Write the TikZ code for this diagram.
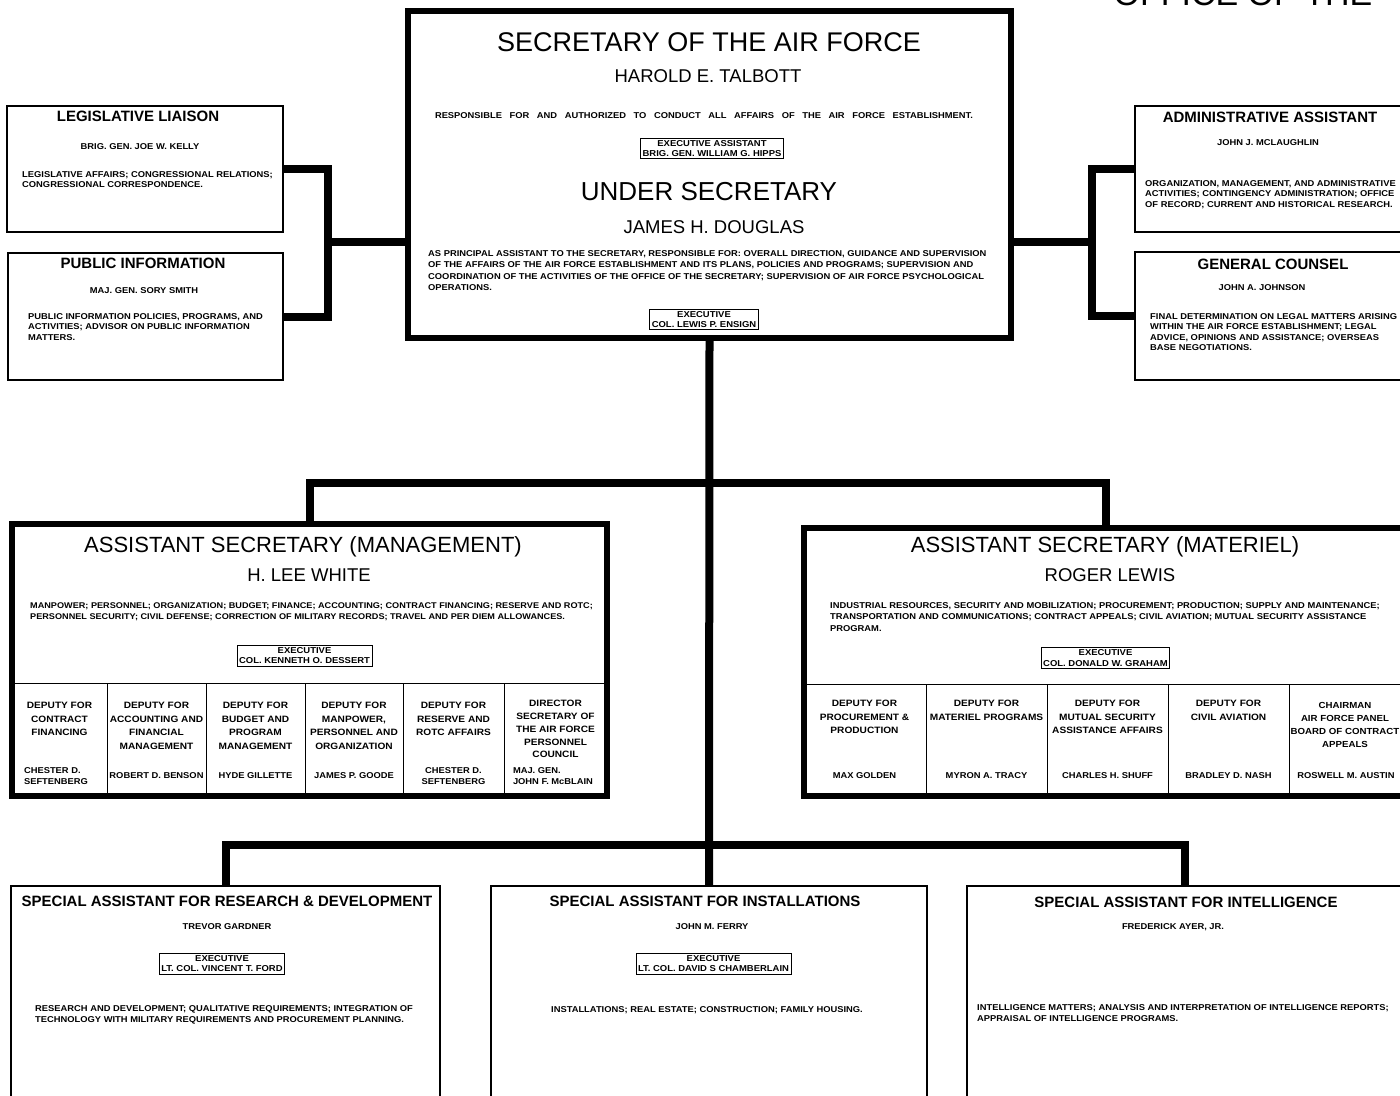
\documentclass[tikz,border=0pt]{standalone}
\usepackage{fontspec}
\setmainfont{Liberation Sans}
\newfontfamily\lettering{Liberation Sans}[FakeStretch=1.1]
\tikzset{
  unit/.style={draw, inner sep=0pt, line width=1.5pt},
  major/.style={unit, line width=5.5pt},
  special/.style={unit, line width=2.5pt},
  subline/.style={line width=1pt},
  conn/.style={line width=8pt},
  chief/.style={inner sep=0pt, font=\fontsize{27}{30}\selectfont},
  asst/.style={inner sep=0pt, font=\fontsize{22}{24}\selectfont},
  holder/.style={inner sep=0pt, font=\fontsize{18.5}{20}\selectfont},
  office/.style={inner sep=0pt, font=\fontsize{15}{17}\selectfont\bfseries},
  person/.style={inner sep=0pt, font=\lettering\fontsize{8.5}{10}\selectfont\bfseries},
  duties/.style={inner sep=0pt, align=left, anchor=north west, font=\lettering\fontsize{8.5}{11.5}\selectfont\bfseries},
  sideduties/.style={duties, font=\lettering\fontsize{8.5}{10.5}\selectfont\bfseries},
  execbox/.style={draw, line width=0.8pt, inner xsep=2pt, inner ysep=2.2pt, align=center, font=\lettering\fontsize{8.6}{10.3}\selectfont\bfseries},
  deputy/.style={inner sep=0pt, align=center, anchor=north, font=\lettering\fontsize{9.2}{13.5}\selectfont\bfseries},
  deputyname/.style={inner sep=0pt, align=center, font=\lettering\fontsize{8.5}{11}\selectfont\bfseries},
}
\begin{document}
\begin{tikzpicture}[x=1pt,y=-1pt]
\useasboundingbox (0,0) rectangle (1400,1095);
\clip (0,0) rectangle (1400,1095);

\node[inner sep=0pt, anchor=base, font=\fontsize{34}{36}\selectfont] (heading) at (1243,5) {OFFICE OF THE};

% secretary and under secretary
\node[major, line width=6pt, minimum width=603pt, minimum height=327pt] (sec) at (709.5,174.5) {};
\node[chief] (sectitle) at (709,42) {SECRETARY OF THE AIR FORCE};
\node[holder] (secname) at (708,76) {HAROLD E. TALBOTT};
\node[person] (secduty) at (704,116) {\makebox[538pt][s]{RESPONSIBLE FOR AND AUTHORIZED TO CONDUCT ALL AFFAIRS OF THE AIR FORCE ESTABLISHMENT.}};
\node[execbox] (secexec) at (712,148.5) {EXECUTIVE ASSISTANT\\BRIG. GEN. WILLIAM G. HIPPS};
\node[chief, font=\fontsize{26}{28}\selectfont] (undertitle) at (709,192) {UNDER SECRETARY};
\node[holder] (undername) at (714,227) {JAMES H. DOUGLAS};
\node[duties] (underduty) at (428,250) {AS PRINCIPAL ASSISTANT TO THE SECRETARY, RESPONSIBLE FOR: OVERALL DIRECTION, GUIDANCE AND SUPERVISION\\OF THE AFFAIRS OF THE AIR FORCE ESTABLISHMENT AND ITS PLANS, POLICIES AND PROGRAMS; SUPERVISION AND\\COORDINATION OF THE ACTIVITIES OF THE OFFICE OF THE SECRETARY; SUPERVISION OF AIR FORCE PSYCHOLOGICAL\\OPERATIONS.};
\node[execbox] (underexec) at (704,319.5) {EXECUTIVE\\COL. LEWIS P. ENSIGN};

% staff offices
\node[unit, minimum width=276pt, minimum height=126pt] (leg) at (145,169) {};
\node[office] at (138,116) {LEGISLATIVE LIAISON};
\node[person] at (140,147) {BRIG. GEN. JOE W. KELLY};
\node[sideduties] at (22,171) {LEGISLATIVE AFFAIRS; CONGRESSIONAL RELATIONS;\\CONGRESSIONAL CORRESPONDENCE.};

\node[unit, minimum width=275pt, minimum height=127pt] (pub) at (145.5,316.5) {};
\node[office] at (143,263) {PUBLIC INFORMATION};
\node[person] at (144,291) {MAJ. GEN. SORY SMITH};
\node[sideduties] at (28,313) {PUBLIC INFORMATION POLICIES, PROGRAMS, AND\\ACTIVITIES; ADVISOR ON PUBLIC INFORMATION\\MATTERS.};

\node[unit, minimum width=270pt, minimum height=126pt] (adm) at (1270,169) {};
\node[office] at (1270,117) {ADMINISTRATIVE ASSISTANT};
\node[person] at (1268,143) {JOHN J. MCLAUGHLIN};
\node[sideduties] at (1145,180) {ORGANIZATION, MANAGEMENT, AND ADMINISTRATIVE\\ACTIVITIES; CONTINGENCY ADMINISTRATION; OFFICE\\OF RECORD; CURRENT AND HISTORICAL RESEARCH.};

\node[unit, minimum width=270pt, minimum height=128pt] (gc) at (1270,316) {};
\node[office] at (1273,264) {GENERAL COUNSEL};
\node[person] at (1262,288) {JOHN A. JOHNSON};
\node[sideduties] at (1150,313) {FINAL DETERMINATION ON LEGAL MATTERS ARISING\\WITHIN THE AIR FORCE ESTABLISHMENT; LEGAL\\ADVICE, OPINIONS AND ASSISTANCE; OVERSEAS\\BASE NEGOTIATIONS.};

% assistant secretary (management)
\node[major, minimum width=595pt, minimum height=272pt] (mgmt) at (309.5,660) {};
\node[asst] at (303,547) {ASSISTANT SECRETARY (MANAGEMENT)};
\node[holder] at (309,575) {H. LEE WHITE};
\node[duties, font=\lettering\fontsize{8.3}{11}\selectfont\bfseries] at (30,602) {MANPOWER; PERSONNEL; ORGANIZATION; BUDGET; FINANCE; ACCOUNTING; CONTRACT FINANCING; RESERVE AND ROTC;\\PERSONNEL SECURITY; CIVIL DEFENSE; CORRECTION OF MILITARY RECORDS; TRAVEL AND PER DIEM ALLOWANCES.};
\node[execbox] (mgmtexec) at (304.5,655.5) {EXECUTIVE\\COL. KENNETH O. DESSERT};
\draw[subline] (12,683) -- (607,683);
\foreach \x in {107,206,305,403,504}
  \draw[subline] (\x,683) -- (\x,796);
\node[deputy] at (59.5,702) {DEPUTY FOR\\CONTRACT\\FINANCING};
\node[deputy] at (156.5,702) {DEPUTY FOR\\ACCOUNTING AND\\FINANCIAL\\MANAGEMENT};
\node[deputy] at (255.5,702) {DEPUTY FOR\\BUDGET AND\\PROGRAM\\MANAGEMENT};
\node[deputy] at (354,702) {DEPUTY FOR\\MANPOWER,\\PERSONNEL AND\\ORGANIZATION};
\node[deputy] at (453.5,702) {DEPUTY FOR\\RESERVE AND\\ROTC AFFAIRS};
\node[deputy, font=\lettering\fontsize{9.2}{12.8}\selectfont\bfseries] at (555.5,700) {DIRECTOR\\SECRETARY OF\\THE AIR FORCE\\PERSONNEL\\COUNCIL};
\node[deputyname, align=left] at (56,776) {CHESTER D.\\SEFTENBERG};
\node[deputyname] at (156.5,776) {ROBERT D. BENSON};
\node[deputyname] at (255.5,776) {HYDE GILLETTE};
\node[deputyname] at (354,776) {JAMES P. GOODE};
\node[deputyname] at (453.5,776) {CHESTER D.\\SEFTENBERG};
\node[deputyname, align=left] at (553,776) {MAJ. GEN.\\JOHN F. McBLAIN};

% assistant secretary (materiel)
\node[major, minimum width=603pt, minimum height=268pt] (mat) at (1105.5,662) {};
\node[asst] at (1105,547) {ASSISTANT SECRETARY (MATERIEL)};
\node[holder] at (1110,575) {ROGER LEWIS};
\node[duties] at (830,602) {INDUSTRIAL RESOURCES, SECURITY AND MOBILIZATION; PROCUREMENT; PRODUCTION; SUPPLY AND MAINTENANCE;\\TRANSPORTATION AND COMMUNICATIONS; CONTRACT APPEALS; CIVIL AVIATION; MUTUAL SECURITY ASSISTANCE\\PROGRAM.};
\node[execbox] (matexec) at (1105.5,658) {EXECUTIVE\\COL. DONALD W. GRAHAM};
\draw[subline] (804,684) -- (1407,684);
\foreach \x in {926,1047,1168,1289}
  \draw[subline] (\x,684) -- (\x,796);
\node[deputy] at (864.5,700) {DEPUTY FOR\\PROCUREMENT \&\\PRODUCTION};
\node[deputy] at (986.5,700) {DEPUTY FOR\\MATERIEL PROGRAMS};
\node[deputy] at (1107.5,700) {DEPUTY FOR\\MUTUAL SECURITY\\ASSISTANCE AFFAIRS};
\node[deputy] at (1228.5,700) {DEPUTY FOR\\CIVIL AVIATION};
\node[deputy, font=\lettering\fontsize{8.8}{13}\selectfont\bfseries] at (1345,702) {CHAIRMAN\\AIR FORCE PANEL\\BOARD OF CONTRACT\\APPEALS};
\node[deputyname] at (864.5,776) {MAX GOLDEN};
\node[deputyname] at (986.5,776) {MYRON A. TRACY};
\node[deputyname] at (1107.5,776) {CHARLES H. SHUFF};
\node[deputyname] at (1228.5,776) {BRADLEY D. NASH};
\node[deputyname] at (1346,776) {ROSWELL M. AUSTIN};

% special assistants
\node[special, minimum width=429pt, minimum height=229pt] (rd) at (225.5,1000.5) {};
\node[office] at (227,901) {SPECIAL ASSISTANT FOR RESEARCH \& DEVELOPMENT};
\node[person] at (227,927) {TREVOR GARDNER};
\node[execbox] (rdexec) at (222,963.5) {EXECUTIVE\\LT. COL. VINCENT T. FORD};
\node[duties] at (35,1005) {RESEARCH AND DEVELOPMENT; QUALITATIVE REQUIREMENTS; INTEGRATION OF\\TECHNOLOGY WITH MILITARY REQUIREMENTS AND PROCUREMENT PLANNING.};

\node[special, minimum width=436pt, minimum height=229pt] (inst) at (709,1000.5) {};
\node[office] at (705,901) {SPECIAL ASSISTANT FOR INSTALLATIONS};
\node[person] at (712,927) {JOHN M. FERRY};
\node[execbox] (instexec) at (713.5,963.5) {EXECUTIVE\\LT. COL. DAVID S CHAMBERLAIN};
\node[person] at (707,1010) {INSTALLATIONS; REAL ESTATE; CONSTRUCTION; FAMILY HOUSING.};

\node[special, minimum width=436pt, minimum height=229pt] (intel) at (1185,1000.5) {};
\node[office] at (1186,902) {SPECIAL ASSISTANT FOR INTELLIGENCE};
\node[person] at (1173,927) {FREDERICK AYER, JR.};
\node[duties] at (977,1004) {INTELLIGENCE MATTERS; ANALYSIS AND INTERPRETATION OF INTELLIGENCE REPORTS;\\APPRAISAL OF INTELLIGENCE PROGRAMS.};

% connectors
\coordinate (jl) at (328,242);
\coordinate (jr) at (1092,242);
\coordinate (jm) at (709,483);
\coordinate (jb) at (709,845);
\draw[conn] (leg.east) -| (jl) |- (pub.east);
\draw[conn] (jl) -- (jl -| sec.west);
\draw[conn] (adm.west) -| (jr) |- (gc.west);
\draw[conn] (jr) -- (jr -| sec.east);
\draw[conn] (sec.south) -- (inst.north);
\draw[conn] (mgmt.north) |- (jm) -| (mat.north);
\draw[conn] (rd.north) |- (jb) -| (intel.north);
\end{tikzpicture}
\end{document}
